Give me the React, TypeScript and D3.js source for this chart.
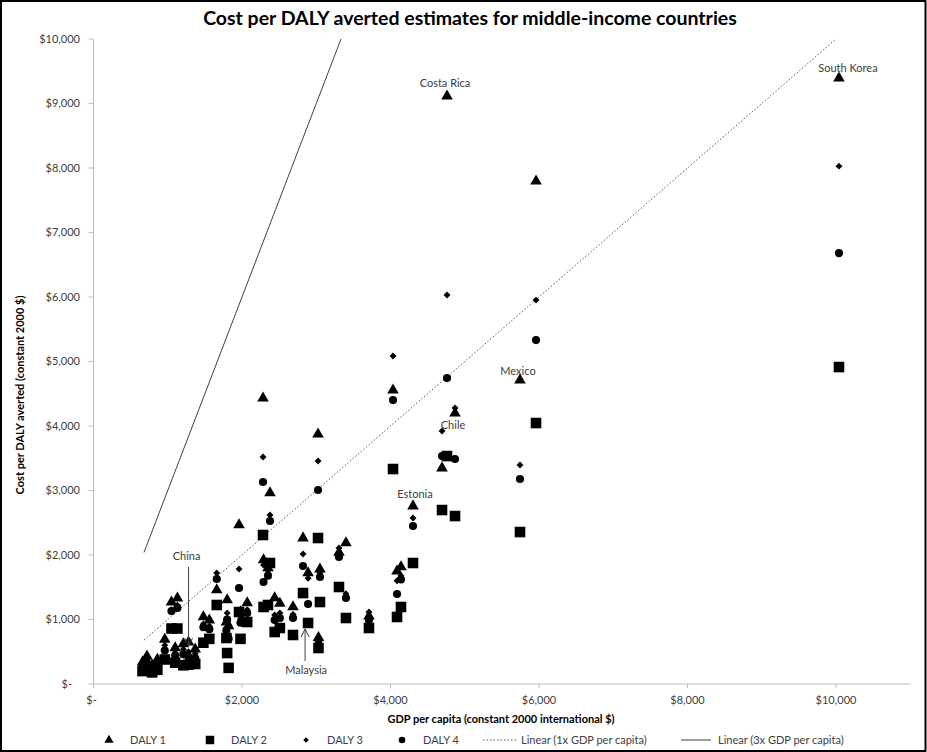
import React from 'react';
import * as d3 from 'd3';

const W = 927;
const H = 752;

// GDP per capita (constant 2000 international $) for each country
const gdp = [660, 720, 790, 860, 960, 1050, 1130, 1100, 1210, 1280, 1370, 1480, 1560, 1660, 1800, 1820, 1790, 1960, 2070, 1980,
  2283, 2377, 2290, 2350, 2440, 2510, 2687, 2822, 2890, 3024, 3050, 3030, 3306, 3400, 3710,
  4034, 4088, 4141, 4303, 4694, 4761, 4869, 5744, 5960, 10040];
// Cost per DALY averted, four estimates
const daly1 = [340, 430, 290, 380, 690, 1270, 1330, 560, 620, 650, 540, 1039, 990, 1457, 1302, 900, 960, 2465, 1256, 1116,
  4433, 2961, 1922, 1800, 1333, 1250, 1194, 2263, 1721, 3875, 1780, 720, 2040, 2186, 1050,
  4557, 1750, 1814, 2759, 3348, 9114, 4200, 4712, 7797, 9393];
const daly2 = [200, 230, 180, 220, 380, 860, 860, 330, 290, 300, 310, 640, 700, 1225, 480, 250, 713, 1116, 961, 700,
  2310, 1876, 1194, 1225, 806, 868, 760, 1410, 946, 2263, 1271, 558, 1504, 1023, 868,
  3333, 1039, 1194, 1876, 2697, 3534, 2604, 2356, 4046, 4914];
const daly3 = [300, 380, 260, 340, 600, 1150, 1220, 480, 540, 500, 470, 930, 900, 1721, 1100, 740, 870, 1783, 1150, 1010,
  3519, 2620, 1845, 1760, 1070, 1100, 1080, 2015, 1640, 3457, 1720, 700, 2108, 1400, 1116,
  5084, 1600, 1680, 2573, 3922, 6030, 4278, 3395, 5952, 8029];
const daly4 = [260, 330, 230, 300, 520, 1130, 1180, 440, 460, 420, 400, 880, 850, 1628, 1000, 700, 837, 1488, 1100, 950,
  3131, 2527, 1581, 1680, 992, 1023, 1023, 1829, 1240, 3007, 1659, 682, 1969, 1333, 992,
  4402, 1395, 1620, 2449, 3534, 4743, 3488, 3178, 5332, 6681];

// Reference lines (1x and 3x GDP per capita)
const refGdp = [680, 10040];
const refMultipliers = [1, 3];

const xTicks = [0, 2000, 4000, 6000, 8000, 10000];
const yTicks = [0, 1000, 2000, 3000, 4000, 5000, 6000, 7000, 8000, 9000, 10000];

// Labelled countries: name, index into the arrays
const labelNames = ['Costa Rica', 'South Korea', 'Mexico', 'Chile', 'Estonia'];
const labelIdx = [40, 44, 42, 41, 38];
const labelOffsets = [[-2, -13], [9, -10], [-2, -9], [-2, 12], [2, -12]];

const arrowNames = ['China', 'Malaysia'];
const arrowIdx = [9, 28];

const legendLabels = ['DALY 1', 'DALY 2', 'DALY 3', 'DALY 4', 'Linear (1x GDP per capita)', 'Linear (3x GDP per capita)'];

const FONT = "Lato, 'Open Sans', sans-serif";
const TXT = '#404040';

const fmt = (v: number) => (v === 0 ? '$-' : '$' + d3.format(',')(v));

export default function App() {
  const x = d3.scaleLinear().domain([0, 11000]).range([93.5, 910.25]);
  const y = d3.scaleLinear().domain([0, 10000]).range([684, 39]);

  const tri = d3.symbol(d3.symbolTriangle, 58)() as string;
  const sq = d3.symbol(d3.symbolSquare, 112)() as string;
  const dia = d3.symbol(d3.symbolSquare, 24)() as string;
  const circ = d3.symbol(d3.symbolCircle, 52)() as string;

  const series = [
    { vals: daly1, path: tri, rot: 0 },
    { vals: daly2, path: sq, rot: 0 },
    { vals: daly3, path: dia, rot: 45 },
    { vals: daly4, path: circ, rot: 0 },
  ];

  const line = d3.line<[number, number]>();
  const refPaths = refMultipliers.map((m) =>
    line(refGdp.map((g) => [x(g), y(g * m)] as [number, number])) as string
  );

  const [x0, x1] = x.range();
  const [y0, y1] = y.range();

  const legendMarkers = [tri, sq, dia, circ];
  const legendMarkerX = [109, 210, 306, 402];
  const legendTextX = [130, 231, 327, 423];
  const legY = 740;

  return (
    <svg width={W} height={H} style={{ position: 'absolute', left: 0, top: 0, background: '#fff' }} fontFamily={FONT}>
      <rect x={0} y={0} width={W} height={H} fill="#fff" />
      <rect x={1} y={1} width={W - 2.5} height={H - 2} fill="none" stroke="#000" strokeWidth={2} />
      <defs>
        <clipPath id="plotClip">
          <rect x={x0} y={y1} width={x1 - x0} height={y0 - y1} />
        </clipPath>
      </defs>

      <text x={470} y={25} textAnchor="middle" fontSize={19.5} fontWeight="bold" fill="#000">
        Cost per DALY averted estimates for middle-income countries
      </text>

      {/* axes */}
      <line x1={x0} x2={x0} y1={y1} y2={y0} stroke="#bfbfbf" />
      <line x1={x0} x2={x1} y1={y0} y2={y0} stroke="#bfbfbf" />
      {yTicks.map((t) => (
        <g key={'y' + t}>
          <line x1={x0 - 5} x2={x0} y1={y(t)} y2={y(t)} stroke="#bfbfbf" />
          <text x={t === 0 ? 72 : 80} y={y(t)} dy="0.35em" textAnchor="end" fontSize={11} fill={TXT}>
            {fmt(t)}
          </text>
        </g>
      ))}
      {xTicks.map((t) => (
        <g key={'x' + t}>
          <line x1={x(t)} x2={x(t)} y1={y0} y2={y0 + 4} stroke="#bfbfbf" />
          <text x={x(t) - (t === 0 ? 2 : 0)} y={700} dy="0.35em" textAnchor="middle" fontSize={11} fill={TXT}>
            {fmt(t)}
          </text>
        </g>
      ))}
      <text x={501} y={719} dy="0.35em" textAnchor="middle" fontSize={11} fontWeight="bold" fill="#000">
        GDP per capita (constant 2000 international $)
      </text>
      <text transform={`translate(20,395) rotate(-90)`} dy="0.35em" textAnchor="middle" fontSize={11} fontWeight="bold" fill="#000">
        Cost per DALY averted (constant 2000 $)
      </text>

      {/* reference lines */}
      <g clipPath="url(#plotClip)">
        <path d={refPaths[0]} fill="none" stroke="#595959" strokeWidth={1} strokeDasharray="1.5,2" />
        <path d={refPaths[1]} fill="none" stroke="#404040" strokeWidth={1} />
      </g>

      {/* markers */}
      {series.map((s, si) => (
        <g key={'s' + si}>
          {s.vals.map((v, i) => (
            <path
              key={i}
              d={s.path}
              transform={`translate(${x(gdp[i])},${y(v)}) rotate(${s.rot})`}
              fill="#000"
            />
          ))}
        </g>
      ))}

      {/* country labels */}
      {labelNames.map((n, k) => (
        <text
          key={n}
          x={x(gdp[labelIdx[k]]) + labelOffsets[k][0]}
          y={y(daly1[labelIdx[k]]) + labelOffsets[k][1]}
          dy="0.35em"
          textAnchor="middle"
          fontSize={11}
          fill={TXT}
        >
          {n}
        </text>
      ))}

      {/* China annotation (arrow pointing down) */}
      <text x={x(gdp[arrowIdx[0]]) - 2} y={556} dy="0.35em" textAnchor="middle" fontSize={11} fill={TXT}>
        {arrowNames[0]}
      </text>
      <line x1={x(gdp[arrowIdx[0]])} x2={x(gdp[arrowIdx[0]])} y1={567} y2={y(daly1[arrowIdx[0]]) + 4} stroke="#404040" />
      <path
        d={`M${x(gdp[arrowIdx[0]]) - 4},${y(daly1[arrowIdx[0]]) - 4} L${x(gdp[arrowIdx[0]])},${y(daly1[arrowIdx[0]]) + 4} L${x(gdp[arrowIdx[0]]) + 4},${y(daly1[arrowIdx[0]]) - 4}`}
        fill="none"
        stroke="#404040"
      />

      {/* Malaysia annotation (arrow pointing up) */}
      <text x={x(gdp[arrowIdx[1]]) - 2} y={670} dy="0.35em" textAnchor="middle" fontSize={11} fill={TXT}>
        {arrowNames[1]}
      </text>
      <line x1={x(gdp[arrowIdx[1]]) - 3} x2={x(gdp[arrowIdx[1]]) - 3} y1={661} y2={y(daly2[arrowIdx[1]]) + 6} stroke="#404040" />
      <path
        d={`M${x(gdp[arrowIdx[1]]) - 7},${y(daly2[arrowIdx[1]]) + 14} L${x(gdp[arrowIdx[1]]) - 3},${y(daly2[arrowIdx[1]]) + 6} L${x(gdp[arrowIdx[1]]) + 1},${y(daly2[arrowIdx[1]]) + 14}`}
        fill="none"
        stroke="#404040"
      />

      {/* legend */}
      {legendMarkers.map((p, k) => (
        <g key={'lg' + k}>
          <path d={p} transform={`translate(${legendMarkerX[k]},${legY}) rotate(${k === 2 ? 45 : 0}) scale(0.8)`} fill="#000" />
          <text x={legendTextX[k]} y={legY} dy="0.35em" fontSize={11} fill={TXT}>
            {legendLabels[k]}
          </text>
        </g>
      ))}
      <line x1={483} x2={516} y1={legY} y2={legY} stroke="#595959" strokeDasharray="1.5,2" />
      <text x={521} y={legY} dy="0.35em" fontSize={11} fill={TXT}>{legendLabels[4]}</text>
      <line x1={681} x2={711} y1={legY} y2={legY} stroke="#404040" />
      <text x={718} y={legY} dy="0.35em" fontSize={11} fill={TXT}>{legendLabels[5]}</text>
    </svg>
  );
}
